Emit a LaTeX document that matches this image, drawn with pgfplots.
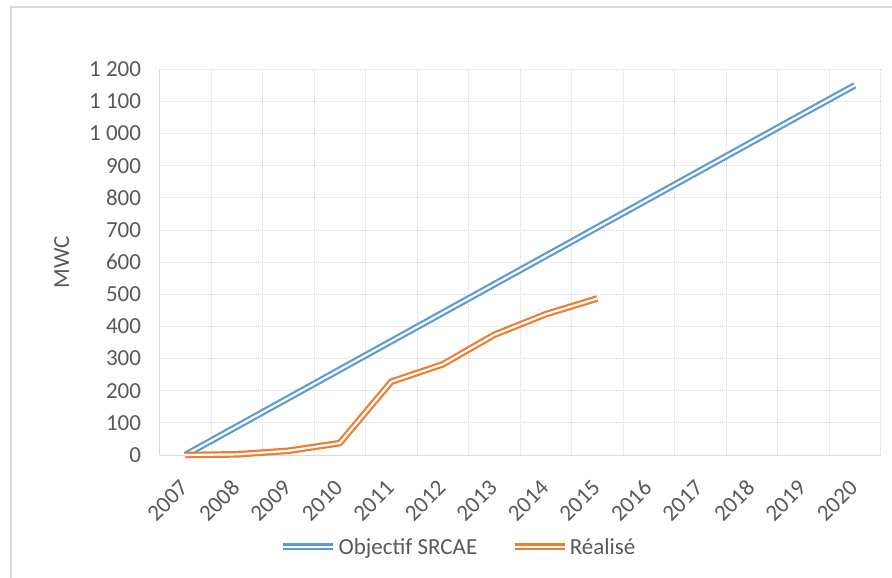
\documentclass[border=0pt]{standalone}
\usepackage{fontspec}
\setmainfont{Carlito}
\usepackage{pgfplots}
\pgfplotsset{compat=1.18}

\definecolor{srblue}{HTML}{5B9BD5}
\definecolor{srorange}{HTML}{ED7D31}
\definecolor{txtgray}{HTML}{595959}
\definecolor{gridgray}{HTML}{D9D9D9}
\newcommand{\chartfont}{\fontsize{23bp}{27bp}\selectfont}

\begin{document}
\begin{tikzpicture}
	\begin{axis}[
		at={(159.5bp,123bp)}, anchor=south west,
		width=721bp, height=385.7bp, scale only axis,
		xmin=-0.5, xmax=13.5, ymin=0, ymax=1200,
		clip=false,
		xtick={0,1,2,3,4,5,6,7,8,9,10,11,12,13},
		xticklabels={2007,2008,2009,2010,2011,2012,2013,2014,2015,2016,2017,2018,2019,2020},
		minor xtick={-0.5,0.5,...,13.5},
		ytick={0,100,...,1200},
		xmajorgrids=false, xminorgrids=true, ymajorgrids=true,
		grid style={gridgray, line width=0.75bp, dash pattern=on 1bp off 1bp},
		minor grid style={gridgray, line width=0.75bp, dash pattern=on 1bp off 1bp},
		axis lines*=left,
		axis line style={-, gridgray, line width=1bp},
		major tick length=0pt, minor tick length=0pt,
		tick label style={font=\chartfont, text=txtgray},
		/pgf/number format/assume math mode=true,
		/pgf/number format/1000 sep={\ },
		yticklabel style={xshift=-15bp},
		xticklabel style={xshift=-1bp, yshift=-29bp, rotate=45, anchor=east, inner sep=0pt},
		ylabel={MWC},
		ylabel style={font=\chartfont, text=txtgray, at={(axis description cs:-0.1356,0.5)}, anchor=center},
		legend image code/.code={\draw[#1] (0bp,0bp) -- (50bp,0bp);},
		legend columns=2,
		legend style={draw=none, fill=none, font=\chartfont, text=txtgray,
			at={(axis description cs:0.415,-0.238)}, anchor=center,
			/tikz/every even column/.append style={column sep=32bp}},
		]
		
		\addplot[srblue, double=white, line width=2.2bp, double distance=2.2bp, line join=round]
		coordinates {(0,0)(1,88.5)(2,177)(3,265.5)(4,354)(5,442.5)(6,531)(7,619.5)(8,708)(9,796.5)(10,885)(11,973.5)(12,1062)(13,1150)};
		
		\addplot[srorange, double=white, line width=2.2bp, double distance=2.2bp, line join=round]
		coordinates {(0,0)(1,2)(2,13)(3,37)(4,228)(5,282)(6,374)(7,438)(8,487)};
		
		\legend{Objectif SRCAE, Réalisé}
	\end{axis}
	\draw[gridgray, line width=1.5bp] (11bp,-20bp) -- (11bp,571bp) -- (920bp,571bp);
	\pgfresetboundingbox
	\path[use as bounding box] (0,0) rectangle (892bp,578bp);
\end{tikzpicture}
\end{document}
